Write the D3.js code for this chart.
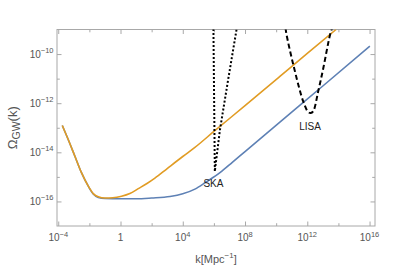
<!DOCTYPE html>
<html><head><meta charset="utf-8">
<script src="https://cdn.jsdelivr.net/npm/d3@7"></script>
<style>body{margin:0;background:#fff}svg{display:block}text{font-family:"Liberation Sans",Arial,sans-serif}</style>
</head><body><svg id="c" width="395" height="279"></svg>
<script>
// data as [log10 k, log10 Omega]
const orangeCurve = [[-3.74,-12.91],[-3.36,-13.48],[-2.93,-14.16],[-2.50,-14.84],[-2.07,-15.38],[-1.75,-15.68],[-1.43,-15.81],[-1.0,-15.86],[-0.5,-15.85],[0.07,-15.79],[0.6,-15.68],[1.14,-15.48],[1.7,-15.27],[2.21,-15.05],[3.0,-14.66],[4.0,-14.17],[4.78,-13.80],[6.0,-13.15],[8.0,-12.10],[10.24,-10.91],[12.0,-9.97],[13.85,-9.0]];
const blueCurve = [[-3.74,-12.91],[-3.36,-13.48],[-2.93,-14.16],[-2.50,-14.84],[-2.07,-15.38],[-1.75,-15.70],[-1.43,-15.84],[-1.0,-15.88],[0,-15.89],[1,-15.89],[2,-15.86],[3.18,-15.80],[4.0,-15.69],[4.78,-15.50],[5.5,-15.21],[6.39,-14.83],[7.2,-14.40],[8.0,-13.97],[10.24,-12.77],[13.0,-11.30],[16.02,-9.68]];
const skaCurve = [[5.97,-8.98],[6.06,-14.78],[6.12,-14.45],[6.39,-13.08],[6.9,-11.1],[7.46,-8.98]];
const lisaCurve = [[10.60,-8.94],[10.67,-9.22],[11.10,-10.43],[11.74,-11.93],[12.06,-12.36],[12.22,-12.40],[12.38,-12.33],[12.70,-11.52],[13.03,-10.57],[13.46,-9.22],[13.60,-8.94]];
const xTickExps = [-4,0,4,8,12,16];
const xMinorExps = [-2,2,6,10,14];
const yTickExps = [-16,-14,-12,-10];
const yMinorExps = [-15,-13,-11];
const curveLabels = [{text:"SKA",k:5.97,o:-15.43},{text:"LISA",k:12.18,o:-13.09}];

const svg = d3.select("#c");
const L=57,R=375,T=29.5,B=226;
const x = d3.scaleLog().domain([Math.pow(10,-4.08),Math.pow(10,16.35)]).range([L,R]);
const y = d3.scaleLog().domain([1e-17,1e-9]).range([B,T]);
const P = v=>Math.pow(10,v);
const frameCol="#a8a8a8", labCol="#555";

svg.append("clipPath").attr("id","clip").append("rect").attr("x",L).attr("y",T).attr("width",R-L).attr("height",B-T);

function axisG(axis, tr){
  const g = svg.append("g").attr("transform",tr).call(axis);
  g.select(".domain").remove();
  g.selectAll("line").attr("stroke",frameCol);
  g.selectAll("text").remove();
  return g;
}
const xMaj = xTickExps.map(P), xMin = xMinorExps.map(P), yMaj=yTickExps.map(P), yMin=yMinorExps.map(P);
axisG(d3.axisBottom(x).tickValues(xMaj).tickSize(-4.5).tickFormat(""),`translate(0,${B})`);
axisG(d3.axisBottom(x).tickValues(xMin).tickSize(-2.8).tickFormat(""),`translate(0,${B})`);
axisG(d3.axisTop(x).tickValues(xMaj).tickSize(-4.5).tickFormat(""),`translate(0,${T})`);
axisG(d3.axisTop(x).tickValues(xMin).tickSize(-2.8).tickFormat(""),`translate(0,${T})`);
axisG(d3.axisLeft(y).tickValues(yMaj).tickSize(-4.5).tickFormat(""),`translate(${L},0)`);
axisG(d3.axisLeft(y).tickValues(yMin).tickSize(-2.8).tickFormat(""),`translate(${L},0)`);
axisG(d3.axisRight(y).tickValues(yMaj).tickSize(-4.5).tickFormat(""),`translate(${R},0)`);
axisG(d3.axisRight(y).tickValues(yMin).tickSize(-2.8).tickFormat(""),`translate(${R},0)`);

svg.append("rect").attr("x",L).attr("y",T).attr("width",R-L).attr("height",B-T)
  .attr("fill","none").attr("stroke",frameCol).attr("stroke-width",1);

function pow10Label(sel, e){
  if(e===0){ sel.text("1"); return; }
  sel.append("tspan").text("10");
  sel.append("tspan").attr("dy",-4.5).attr("font-size",7.5).text(e<0?"\u2212"+(-e):String(e));
}
xTickExps.forEach(e=>{
  const t = svg.append("text").attr("x",x(P(e))).attr("y",241).attr("text-anchor","middle")
    .attr("font-size",10).attr("fill",labCol);
  pow10Label(t,e);
});
yTickExps.forEach(e=>{
  const t = svg.append("text").attr("x",53.5).attr("y",y(P(e))+3.5).attr("text-anchor","end")
    .attr("font-size",10).attr("fill",labCol);
  pow10Label(t,e);
});

// axis titles
const xt = svg.append("text").attr("x",(L+R)/2).attr("y",262.5).attr("text-anchor","middle").attr("font-size",11).attr("fill",labCol);
xt.append("tspan").text("k[Mpc");
xt.append("tspan").attr("dy",-4.5).attr("font-size",8).text("\u22121");
xt.append("tspan").attr("dy",4.5).text("]");
const yt = svg.append("text").attr("transform",`translate(17,${(T+B)/2}) rotate(-90)`).attr("text-anchor","middle").attr("font-size",13).attr("fill",labCol);
yt.append("tspan").text("\u03A9");
yt.append("tspan").attr("dy",2.5).attr("font-size",10.5).text("GW");
yt.append("tspan").attr("dy",-2.5).text("(k)");

const line = d3.line().x(d=>x(P(d[0]))).y(d=>y(P(d[1])));
const smooth = d3.line().x(d=>x(P(d[0]))).y(d=>y(P(d[1]))).curve(d3.curveMonotoneX);
const g = svg.append("g").attr("clip-path","url(#clip)");
g.append("path").attr("d",smooth(blueCurve)).attr("fill","none").attr("stroke","#5E81B5").attr("stroke-width",1.6);
g.append("path").attr("d",smooth(orangeCurve)).attr("fill","none").attr("stroke","#E19C24").attr("stroke-width",1.6);
g.append("path").attr("d",line(skaCurve)).attr("fill","none").attr("stroke","#000").attr("stroke-width",2).attr("stroke-dasharray","2,2");
g.append("path").attr("d",d3.line().x(d=>x(P(d[0]))).y(d=>y(P(d[1]))).curve(d3.curveCatmullRom)(lisaCurve)).attr("fill","none").attr("stroke","#000").attr("stroke-width",2).attr("stroke-dasharray","5,3");

curveLabels.forEach(c=>{
  svg.append("text").attr("x",x(P(c.k))+0).attr("y",y(P(c.o))).attr("text-anchor","middle")
    .attr("font-size",10).attr("fill","#222").text(c.text);
});
</script></body></html>
